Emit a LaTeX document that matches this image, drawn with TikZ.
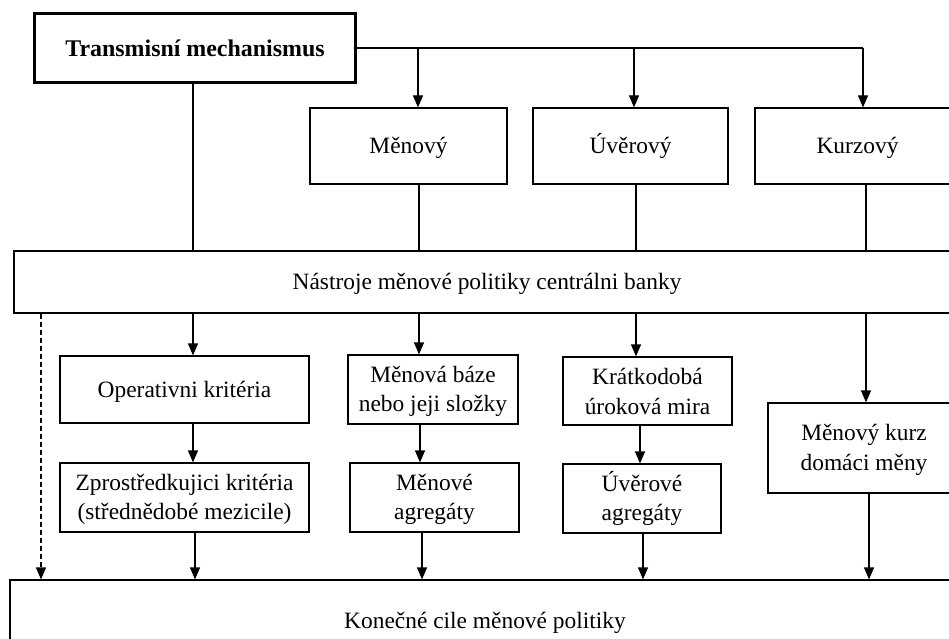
\documentclass[tikz,border=0pt]{standalone}
\usepackage{fontspec}
\setmainfont{Liberation Serif}
\usetikzlibrary{arrows.meta}

% uniform line box so every text line sits at the same height
\newcommand{\ls}{\rule[-3bp]{0pt}{23bp}}

\begin{document}
\begin{tikzpicture}[x=1bp,y=-1bp,
  box/.style={draw, line width=1.2bp, align=center, inner sep=0bp,
              font=\fontsize{23.5}{29.5}\selectfont},
  titlebox/.style={draw, line width=3bp, align=center, inner sep=0bp,
              font=\fontsize{24}{29.5}\selectfont\bfseries},
  link/.style={line width=1.2bp},
  arr/.style={line width=1.2bp, -{Triangle[width=10bp,length=12bp]}},
  dasharr/.style={arr, dash pattern=on 5bp off 3bp}
]
\useasboundingbox (0,0) rectangle (949,639);
\clip (0,0) rectangle (949,639);

% top level
\node[titlebox, minimum width=320bp, minimum height=69bp] (tm) at (195,48.5) {\ls Transmisní mechanismus};
\node[box, minimum width=197bp, minimum height=76bp] (meny) at (408.5,146) {\ls Měnový};
\node[box, minimum width=195bp, minimum height=76bp] (uver) at (630.5,146) {\ls Úvěrový};
\node[box, minimum width=205bp, minimum height=76bp] (kurz) at (857.5,146) {\ls Kurzový};

% instruments
\node[box, minimum width=946bp, minimum height=62bp] (nastr) at (487,282) {\ls Nástroje měnové politiky centrálni banky};

% operating level
\node[box, minimum width=249bp, minimum height=67bp] (oper) at (184.5,389.5) {\ls Operativni kritéria};
\node[box, minimum width=170bp, minimum height=69bp] (baze) at (433,389.5) {\ls Měnová báze\\\ls nebo jeji složky};
\node[box, minimum width=169bp, minimum height=68bp] (krat) at (647.5,391) {\ls Krátkodobá\\\ls úroková mira};
\node[box, minimum width=192bp, minimum height=90bp] (kurzd) at (864,448) {\ls Měnový kurz\\\ls domáci měny};

% intermediate level
\node[box, minimum width=249bp, minimum height=69bp] (zpro) at (184.5,497.5) {\ls Zprostředkujici kritéria\\\ls (střednědobé mezicile)};
\node[box, minimum width=169bp, minimum height=69bp] (magr) at (434.5,497.5) {\ls Měnové\\\ls agregáty};
\node[box, minimum width=158bp, minimum height=69bp] (uagr) at (642,498.5) {\ls Úvěrové\\\ls agregáty};

% final goals
\node[box, minimum width=950bp, minimum height=82bp] (cile) at (485,621) {\ls Konečné cile měnové politiky};

% branch points on the top distribution line
\coordinate (b1) at (418,48);
\coordinate (b2) at (634,48);
\coordinate (b3) at (863,48);

\draw[link] (tm.east |- b1) -- (b3);
\draw[arr] (b1) -- (b1 |- meny.north);
\draw[arr] (b2) -- (b2 |- uver.north);
\draw[arr] (b3) -- (b3 |- kurz.north);

% into the instruments box
\coordinate (c1) at (193,0);
\coordinate (c2) at (419,0);
\coordinate (c3) at (636,0);
\coordinate (c4) at (866,0);
\draw[link] (c1 |- tm.south) -- (c1 |- nastr.north);
\draw[link] (c2 |- meny.south) -- (c2 |- nastr.north);
\draw[link] (c3 |- uver.south) -- (c3 |- nastr.north);
\draw[link] (c4 |- kurz.south) -- (c4 |- nastr.north);

% instruments to operating criteria
\draw[arr] (c1 |- nastr.south) -- (c1 |- oper.north);
\draw[arr] (c2 |- nastr.south) -- (c2 |- baze.north);
\draw[arr] (c3 |- nastr.south) -- (c3 |- krat.north);
\draw[arr] (c4 |- nastr.south) -- (c4 |- kurzd.north);

% operating to intermediate
\coordinate (d1) at (193,0);
\coordinate (d2) at (420,0);
\coordinate (d3) at (640,0);
\draw[arr] (d1 |- oper.south) -- (d1 |- zpro.north);
\draw[arr] (d2 |- baze.south) -- (d2 |- magr.north);
\draw[arr] (d3 |- krat.south) -- (d3 |- uagr.north);

% into the final goals
\coordinate (e0) at (41,0);
\coordinate (e1) at (195,0);
\coordinate (e2) at (422,0);
\coordinate (e3) at (643,0);
\coordinate (e4) at (869,0);
\draw[dasharr] (e0 |- nastr.south) -- (e0 |- cile.north);
\draw[arr] (e1 |- zpro.south) -- (e1 |- cile.north);
\draw[arr] (e2 |- magr.south) -- (e2 |- cile.north);
\draw[arr] (e3 |- uagr.south) -- (e3 |- cile.north);
\draw[arr] (e4 |- kurzd.south) -- (e4 |- cile.north);
\end{tikzpicture}
\end{document}
